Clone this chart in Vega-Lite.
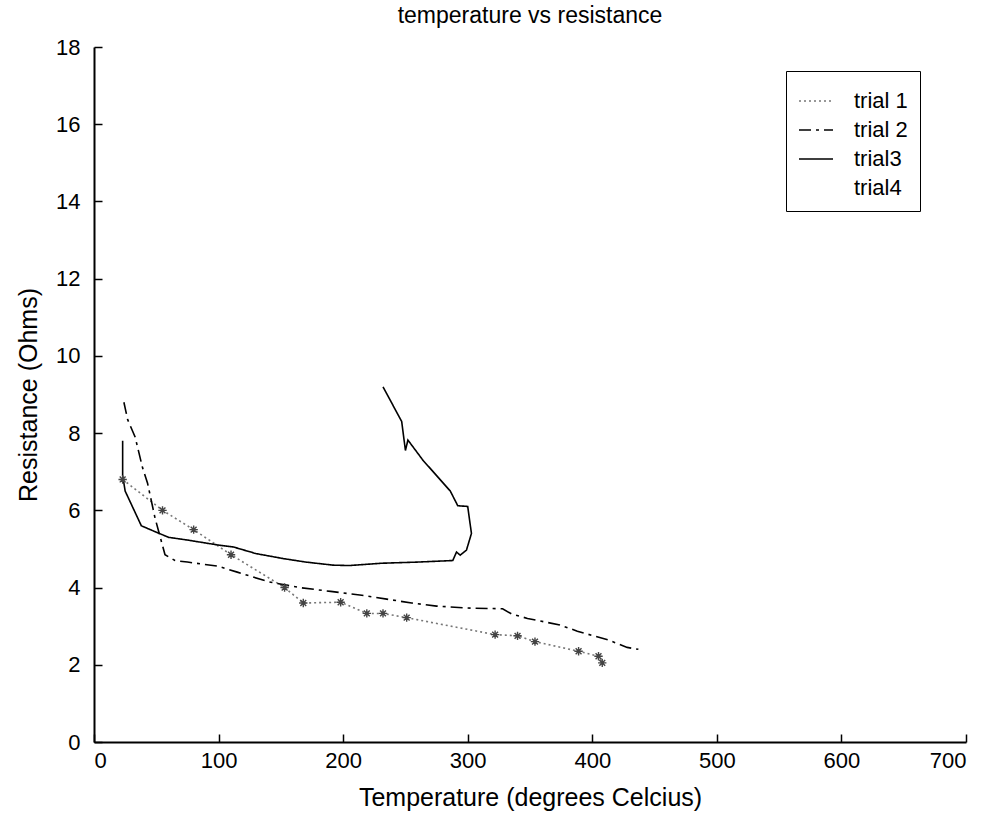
{
  "$schema": "https://vega.github.io/schema/vega-lite/v6.json",
  "autosize": {"type": "none"},
  "width": 872,
  "height": 695,
  "padding": {"left": 94, "top": 47, "right": 23, "bottom": 71},
  "background": "white",
  "title": {"text": "temperature vs resistance", "fontSize": 23, "font": "Liberation Sans", "fontWeight": "normal", "color": "black", "offset": 8, "anchor": "middle"},
  "config": {
    "view": {"stroke": null},
    "font": "Liberation Sans",
    "axis": {"grid": false, "domainColor": "black", "domainWidth": 2, "tickColor": "black", "tickWidth": 1.5, "labelColor": "black", "titleColor": "black", "labelFontSize": 22, "titleFontSize": 25, "titleFontWeight": "normal", "labelFont": "Liberation Sans", "titleFont": "Liberation Sans"}
  },
  "data": {"values": [
    {"trial": "trial 1", "i": 0, "t": 23, "r": 6.8},
    {"trial": "trial 1", "i": 1, "t": 55, "r": 6.0},
    {"trial": "trial 1", "i": 2, "t": 80, "r": 5.5},
    {"trial": "trial 1", "i": 3, "t": 110, "r": 4.85},
    {"trial": "trial 1", "i": 4, "t": 153, "r": 4.0},
    {"trial": "trial 1", "i": 5, "t": 168, "r": 3.6},
    {"trial": "trial 1", "i": 6, "t": 198, "r": 3.62},
    {"trial": "trial 1", "i": 7, "t": 219, "r": 3.33},
    {"trial": "trial 1", "i": 8, "t": 232, "r": 3.33},
    {"trial": "trial 1", "i": 9, "t": 251, "r": 3.22},
    {"trial": "trial 1", "i": 10, "t": 322, "r": 2.78},
    {"trial": "trial 1", "i": 11, "t": 340, "r": 2.75},
    {"trial": "trial 1", "i": 12, "t": 354, "r": 2.6},
    {"trial": "trial 1", "i": 13, "t": 389, "r": 2.35},
    {"trial": "trial 1", "i": 14, "t": 405, "r": 2.22},
    {"trial": "trial 1", "i": 15, "t": 408, "r": 2.05},
    {"trial": "trial 2", "i": 0, "t": 24, "r": 8.8},
    {"trial": "trial 2", "i": 1, "t": 27, "r": 8.35},
    {"trial": "trial 2", "i": 2, "t": 33, "r": 7.9},
    {"trial": "trial 2", "i": 3, "t": 39, "r": 7.1},
    {"trial": "trial 2", "i": 4, "t": 43, "r": 6.7},
    {"trial": "trial 2", "i": 5, "t": 49, "r": 5.8},
    {"trial": "trial 2", "i": 6, "t": 57, "r": 4.85},
    {"trial": "trial 2", "i": 7, "t": 65, "r": 4.7},
    {"trial": "trial 2", "i": 8, "t": 75, "r": 4.66},
    {"trial": "trial 2", "i": 9, "t": 100, "r": 4.55},
    {"trial": "trial 2", "i": 10, "t": 115, "r": 4.4},
    {"trial": "trial 2", "i": 11, "t": 140, "r": 4.15},
    {"trial": "trial 2", "i": 12, "t": 165, "r": 4.0},
    {"trial": "trial 2", "i": 13, "t": 190, "r": 3.9},
    {"trial": "trial 2", "i": 14, "t": 215, "r": 3.8},
    {"trial": "trial 2", "i": 15, "t": 235, "r": 3.7},
    {"trial": "trial 2", "i": 16, "t": 255, "r": 3.6},
    {"trial": "trial 2", "i": 17, "t": 275, "r": 3.52},
    {"trial": "trial 2", "i": 18, "t": 300, "r": 3.47},
    {"trial": "trial 2", "i": 19, "t": 328, "r": 3.45},
    {"trial": "trial 2", "i": 20, "t": 335, "r": 3.32},
    {"trial": "trial 2", "i": 21, "t": 348, "r": 3.2},
    {"trial": "trial 2", "i": 22, "t": 374, "r": 3.03},
    {"trial": "trial 2", "i": 23, "t": 388, "r": 2.87},
    {"trial": "trial 2", "i": 24, "t": 413, "r": 2.64},
    {"trial": "trial 2", "i": 25, "t": 428, "r": 2.45},
    {"trial": "trial 2", "i": 26, "t": 437, "r": 2.4},
    {"trial": "trial3", "i": 0, "t": 23, "r": 7.8},
    {"trial": "trial3", "i": 1, "t": 23, "r": 6.9},
    {"trial": "trial3", "i": 2, "t": 25, "r": 6.5},
    {"trial": "trial3", "i": 3, "t": 38, "r": 5.6},
    {"trial": "trial3", "i": 4, "t": 51, "r": 5.42},
    {"trial": "trial3", "i": 5, "t": 60, "r": 5.3},
    {"trial": "trial3", "i": 6, "t": 75, "r": 5.23},
    {"trial": "trial3", "i": 7, "t": 100, "r": 5.1},
    {"trial": "trial3", "i": 8, "t": 112, "r": 5.05},
    {"trial": "trial3", "i": 9, "t": 130, "r": 4.88},
    {"trial": "trial3", "i": 10, "t": 152, "r": 4.75},
    {"trial": "trial3", "i": 11, "t": 170, "r": 4.66},
    {"trial": "trial3", "i": 12, "t": 192, "r": 4.58},
    {"trial": "trial3", "i": 13, "t": 205, "r": 4.57},
    {"trial": "trial3", "i": 14, "t": 231, "r": 4.63},
    {"trial": "trial3", "i": 15, "t": 260, "r": 4.66},
    {"trial": "trial3", "i": 16, "t": 288, "r": 4.7},
    {"trial": "trial3", "i": 17, "t": 291, "r": 4.92},
    {"trial": "trial3", "i": 18, "t": 294, "r": 4.84},
    {"trial": "trial3", "i": 19, "t": 299, "r": 4.97},
    {"trial": "trial3", "i": 20, "t": 303, "r": 5.4},
    {"trial": "trial3", "i": 21, "t": 300, "r": 6.1},
    {"trial": "trial3", "i": 22, "t": 292, "r": 6.12},
    {"trial": "trial3", "i": 23, "t": 286, "r": 6.5},
    {"trial": "trial3", "i": 24, "t": 264, "r": 7.3},
    {"trial": "trial3", "i": 25, "t": 252, "r": 7.82},
    {"trial": "trial3", "i": 26, "t": 250, "r": 7.55},
    {"trial": "trial3", "i": 27, "t": 247, "r": 8.3},
    {"trial": "trial3", "i": 28, "t": 232, "r": 9.2}
  ]},
  "layer": [
    {
      "mark": {"type": "line", "strokeWidth": 1.6},
      "encoding": {
        "x": {"field": "t", "type": "quantitative", "scale": {"domain": [0, 700], "nice": false, "zero": false},
              "axis": {"values": [0,100,200,300,400,500,600,700], "title": "Temperature (degrees Celcius)", "tickSize": -8, "labelPadding": 16, "titlePadding": 14}},
        "y": {"field": "r", "type": "quantitative", "scale": {"domain": [0, 18], "nice": false},
              "axis": {"values": [0,2,4,6,8,10,12,14,16,18], "title": "Resistance (Ohms)", "tickSize": -8, "labelPadding": 22, "titlePadding": 14}},
        "order": {"field": "i", "type": "quantitative"},
        "color": {"field": "trial", "type": "nominal",
                  "scale": {"domain": ["trial 1", "trial 2", "trial3", "trial4"], "range": ["#777777", "black", "black", "white"]},
                  "legend": {"title": null, "orient": "none", "legendX": 692, "legendY": 24, "strokeColor": "black", "padding": 12, "fillColor": "white", "symbolType": "stroke", "symbolSize": 1156, "symbolStrokeWidth": 1.6, "labelFontSize": 22, "labelColor": "black", "rowPadding": -4, "labelOffset": 20}},
        "strokeDash": {"field": "trial", "type": "nominal",
                  "scale": {"domain": ["trial 1", "trial 2", "trial3", "trial4"], "range": [[2, 3], [12, 5, 3, 5], [1, 0], [1, 0]]},
                  "legend": {"title": null, "orient": "none", "legendX": 692, "legendY": 24, "strokeColor": "black", "padding": 12, "fillColor": "white", "symbolType": "stroke", "symbolSize": 1156, "symbolStrokeWidth": 1.6, "labelFontSize": 22, "labelColor": "black", "rowPadding": -4, "labelOffset": 20}}
      }
    },
    {
      "transform": [{"filter": "datum.trial == 'trial 1'"}],
      "mark": {"type": "point", "shape": "M-1,0L1,0M0,-1L0,1M-0.7,-0.7L0.7,0.7M-0.7,0.7L0.7,-0.7", "size": 70, "filled": false, "stroke": "#444444", "strokeWidth": 1.4, "opacity": 1},
      "encoding": {
        "x": {"field": "t", "type": "quantitative"},
        "y": {"field": "r", "type": "quantitative"}
      }
    }
  ]
}
